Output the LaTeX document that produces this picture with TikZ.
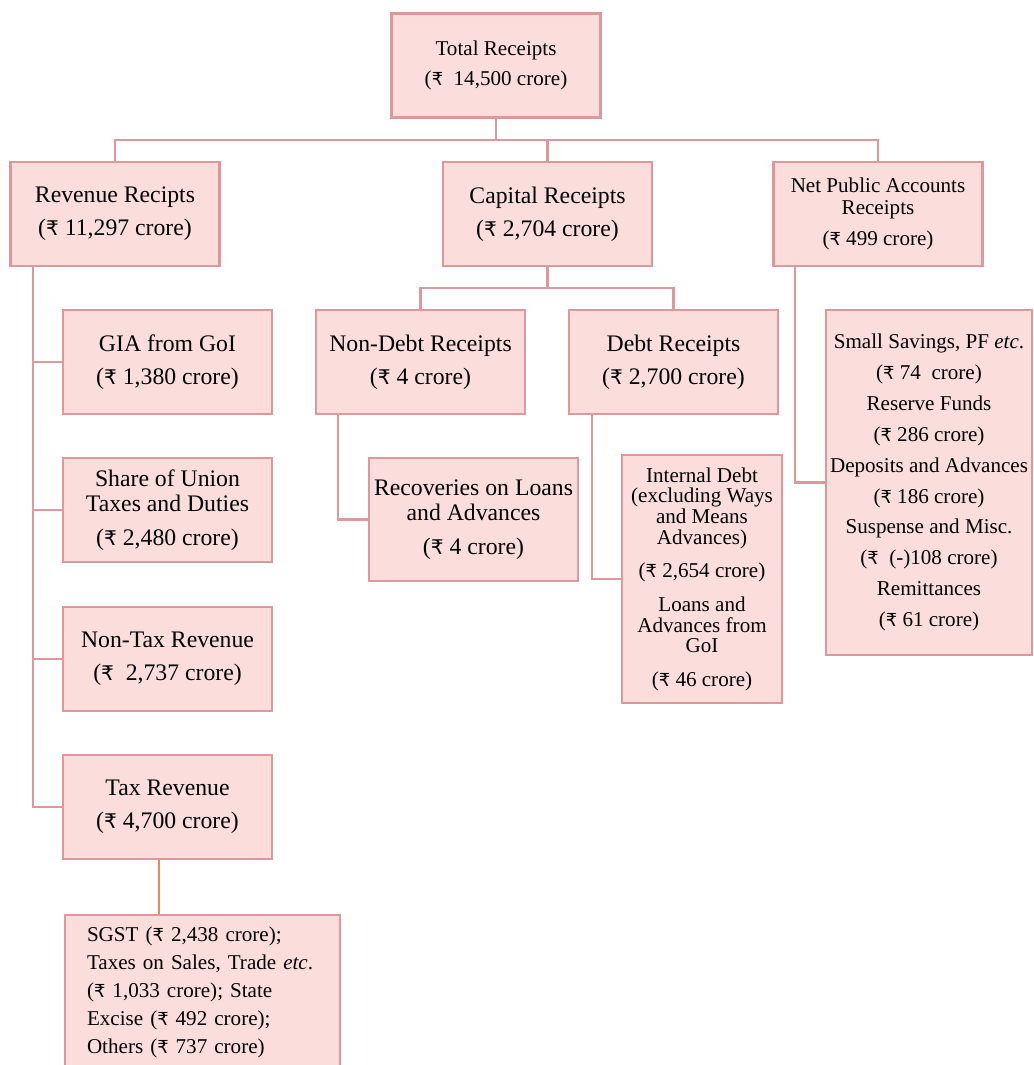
\documentclass[tikz,border=0pt]{standalone}
\usepackage{fontspec}
\setmainfont{Liberation Serif}
\newfontfamily\rupfont{DejaVu Sans}[Scale=0.85]
\newcommand{\Rs}{{\rupfont\symbol{"20B9}}}
\definecolor{boxfill}{RGB}{251,222,219}
\definecolor{boxline}{RGB}{221,152,156}
\definecolor{tieline}{RGB}{232,138,92}

\begin{document}
\begin{tikzpicture}[x=0.02cm,y=-0.02cm,
    box/.style={draw=boxline, fill=boxfill, line width=1.6pt, align=center, inner sep=0pt},
    wide/.style={minimum width=4.18cm, minimum height=2.08cm},
    bigtxt/.style={font=\fontsize{13.5}{18.8}\selectfont},
    smalltxt/.style={font=\fontsize{12}{17.6}\selectfont},
    link/.style={draw=boxline, line width=1.6pt}]
    \useasboundingbox (0,0) rectangle (1034,1065);
    % Top level
    \node[box,wide,font=\fontsize{12}{17}\selectfont] (total) at (496,65.5)
        {Total Receipts\\(\Rs\ \ 14,500 crore)};
    % Second level
    \node[box,wide,bigtxt] (rev) at (115,214) {Revenue Recipts\\(\Rs\ 11,297 crore)};
    \node[box,wide,bigtxt] (cap) at (547.5,214) {Capital Receipts\\(\Rs\ 2,704 crore)};
    \node[box,wide,font=\fontsize{12}{12.5}\selectfont] (npa) at (878,214)
        {Net Public Accounts\\Receipts\\[5pt](\Rs\ 499 crore)};
    % Revenue side
    \node[box,wide,bigtxt] (gia) at (167.5,362) {GIA from GoI\\(\Rs\ 1,380 crore)};
    \node[box,wide,font=\fontsize{13.5}{14.2}\selectfont] (share) at (167.5,510)
        {Share of Union\\Taxes and Duties\\[5pt](\Rs\ 2,480 crore)};
    \node[box,wide,bigtxt] (ntax) at (167.5,659) {Non-Tax Revenue\\(\Rs\ \ 2,737 crore)};
    \node[box,wide,bigtxt] (tax) at (167.5,807) {Tax Revenue\\(\Rs\ 4,700 crore)};
    \node[box,minimum width=5.5cm,minimum height=3.1cm,align=left,text width=4.62cm,
        font=\fontsize{12}{15.9}\selectfont] (sgst) at (202.5,992.5)
        {SGST (\Rs\ 2,438 crore);\\Taxes on Sales, Trade \textit{etc}.\\(\Rs\ 1,033 crore); State\\Excise (\Rs\ 492 crore);\\Others (\Rs\ 737 crore)};
    % Capital side
    \node[box,wide,bigtxt] (nondebt) at (420.5,362) {Non-Debt Receipts\\(\Rs\ 4 crore)};
    \node[box,wide,bigtxt] (debt) at (673.5,362) {Debt Receipts\\(\Rs\ 2,700 crore)};
    \node[box,minimum width=4.18cm,minimum height=2.46cm,font=\fontsize{13.5}{14.2}\selectfont]
        (recov) at (473.5,519.5) {Recoveries on Loans\\and Advances\\[5pt](\Rs\ 4 crore)};
    \node[box,minimum width=3.2cm,minimum height=4.96cm,font=\fontsize{12}{11.9}\selectfont]
        (intdebt) at (702,579)
        {Internal Debt\\(excluding Ways\\and Means\\Advances)\\[7pt](\Rs\ 2,654 crore)\\[7pt]Loans and\\Advances from\\GoI\\[7pt](\Rs\ 46 crore)};
    % Public accounts side
    \node[box,smalltxt,minimum width=4.12cm,minimum height=6.9cm] (savings) at (929,482.5)
        {Small Savings, PF \textit{etc}.\\(\Rs\ 74\ \ crore)\\Reserve Funds\\(\Rs\ 286 crore)\\Deposits and Advances\\(\Rs\ 186 crore)\\Suspense and Misc.\\(\Rs\ \ (-)108 crore)\\Remittances\\(\Rs\ 61 crore)};
    % Connectors
    \coordinate (busA) at (0,140);
    \coordinate (busB) at (0,288);
    \coordinate (spine) at (33,0);
    \coordinate (ndspine) at (338,0);
    \coordinate (dspine) at (592,0);
    \coordinate (nspine) at (795,0);
    \coordinate (taxtie) at (159,0);
    \draw[link] (total.south) -- (total.south |- busA);
    \draw[link] (rev.north) |- (busA -| npa.north) -- (npa.north);
    \draw[link] (cap.north) -- (cap.north |- busA);
    \draw[link] (rev.south -| spine) |- (tax.west);
    \foreach \n in {gia,share,ntax}
        \draw[link] (spine |- \n.west) -- (\n.west);
    \draw[draw=tieline, line width=0.6pt] (tax.south -| taxtie) -- (sgst.north -| taxtie);
    \draw[link] (cap.south) -- (cap.south |- busB);
    \draw[link] (nondebt.north) |- (busB -| debt.north) -- (debt.north);
    \draw[link] (nondebt.south -| ndspine) |- (recov.west);
    \draw[link] (debt.south -| dspine) |- (intdebt.west);
    \draw[link] (npa.south -| nspine) |- (savings.west);
\end{tikzpicture}
\end{document}
